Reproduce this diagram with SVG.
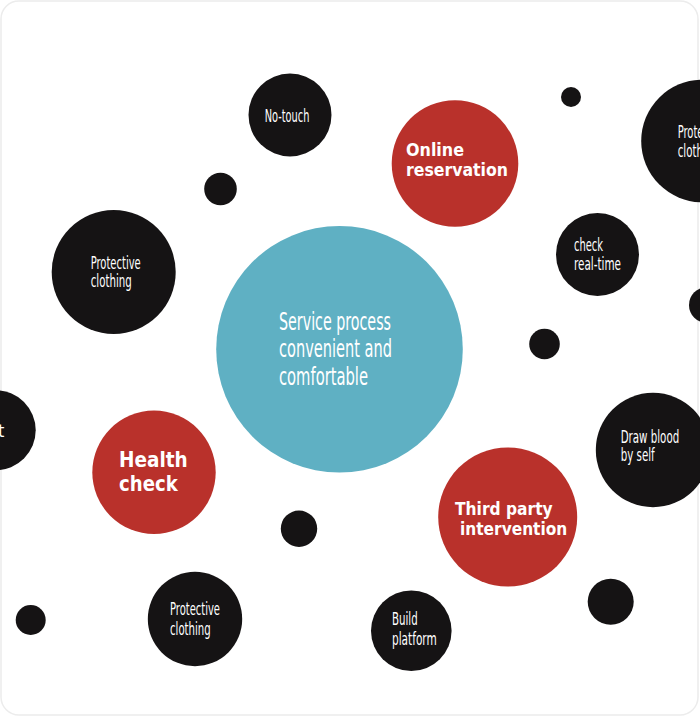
<svg xmlns="http://www.w3.org/2000/svg" width="700" height="717" viewBox="0 0 700 717">
<style>
.k{fill:#151314}
.r{fill:#b9312b}
.b{fill:#5fb0c3}
.t{fill:#ffffff;font-family:"DejaVu Sans Condensed","DejaVu Sans",sans-serif;font-stretch:condensed}
.s{font-size:18px}
.c{font-size:25px}
.bd{fill:#ffffff;font-family:"DejaVu Sans","Liberation Sans",sans-serif;font-weight:bold}
</style>
<rect x="1" y="1" width="697" height="714" rx="18" fill="#ffffff" stroke="#ececec" stroke-width="1.5"/>
<g id="connectors"></g>
<g id="dot1"><circle class="k" cx="571" cy="97" r="10"/></g>
<g id="dot2"><circle class="k" cx="220.5" cy="189" r="16.3"/></g>
<g id="dot3"><circle class="k" cx="544.5" cy="344" r="15.3"/></g>
<g id="dot4"><circle class="k" cx="707" cy="305" r="18"/></g>
<g id="dot5"><circle class="k" cx="299" cy="528.7" r="18.2"/></g>
<g id="dot6"><circle class="k" cx="30.7" cy="620" r="15"/></g>
<g id="dot7"><circle class="k" cx="610.7" cy="601.7" r="23"/></g>
<g id="no-touch"><circle class="k" cx="290" cy="115" r="41.5"/>
<text class="t s" x="264.7" y="121.5" textLength="44.7" lengthAdjust="spacingAndGlyphs">No-touch</text></g>
<g id="online-reservation"><circle class="r" cx="455" cy="163.5" r="63.3"/>
<text class="bd" font-size="17.5" x="406" y="156" textLength="58" lengthAdjust="spacingAndGlyphs">Online</text>
<text class="bd" font-size="17.5" x="406" y="176" textLength="102" lengthAdjust="spacingAndGlyphs">reservation</text></g>
<g id="protective-right"><circle class="k" cx="702.5" cy="141" r="61.3"/>
<text class="t s" x="677.7" y="137.5" textLength="50" lengthAdjust="spacingAndGlyphs">Protective</text>
<text class="t s" x="677.7" y="156.5" textLength="41" lengthAdjust="spacingAndGlyphs">clothing</text></g>
<g id="protective-left"><circle class="k" cx="113.7" cy="272" r="62"/>
<text class="t s" x="90.7" y="268.5" textLength="50" lengthAdjust="spacingAndGlyphs">Protective</text>
<text class="t s" x="90.7" y="287" textLength="41" lengthAdjust="spacingAndGlyphs">clothing</text></g>
<g id="check-real-time"><circle class="k" cx="597.5" cy="254.5" r="41.5"/>
<text class="t s" x="574" y="250.5" textLength="29" lengthAdjust="spacingAndGlyphs">check</text>
<text class="t s" x="574" y="270" textLength="47" lengthAdjust="spacingAndGlyphs">real-time</text></g>
<g id="service-process"><circle class="b" cx="339.5" cy="349.3" r="123.3"/>
<text class="t c" x="279" y="329.5" textLength="112" lengthAdjust="spacingAndGlyphs">Service process</text>
<text class="t c" x="279" y="357.3" textLength="113" lengthAdjust="spacingAndGlyphs">convenient and</text>
<text class="t c" x="279" y="385" textLength="89" lengthAdjust="spacingAndGlyphs">comfortable</text></g>
<g id="left-partial"><circle class="k" cx="-4.3" cy="430.3" r="40"/>
<text class="t s" x="4.3" y="436.5" text-anchor="end">t</text></g>
<g id="health-check"><circle class="r" cx="154" cy="472.3" r="61.7"/>
<text class="bd" font-size="21" x="119" y="467.3" textLength="68.7" lengthAdjust="spacingAndGlyphs">Health</text>
<text class="bd" font-size="21" x="119" y="491" textLength="58.7" lengthAdjust="spacingAndGlyphs">check</text></g>
<g id="draw-blood"><circle class="k" cx="653" cy="450" r="57.2"/>
<text class="t s" x="620.7" y="442.5" textLength="58.5" lengthAdjust="spacingAndGlyphs">Draw blood</text>
<text class="t s" x="620.7" y="461" textLength="34" lengthAdjust="spacingAndGlyphs">by self</text></g>
<g id="third-party"><circle class="r" cx="507.7" cy="517" r="69.5"/>
<text class="bd" font-size="17.5" x="455" y="514.5" textLength="97.7" lengthAdjust="spacingAndGlyphs">Third party</text>
<text class="bd" font-size="17.5" x="460" y="535" textLength="107.3" lengthAdjust="spacingAndGlyphs">intervention</text></g>
<g id="protective-bottom"><circle class="k" cx="195" cy="619" r="47.2"/>
<text class="t s" x="170" y="615" textLength="50" lengthAdjust="spacingAndGlyphs">Protective</text>
<text class="t s" x="170" y="634.5" textLength="40.7" lengthAdjust="spacingAndGlyphs">clothing</text></g>
<g id="build-platform"><circle class="k" cx="411.3" cy="630.8" r="40.3"/>
<text class="t s" x="392" y="625" textLength="25.7" lengthAdjust="spacingAndGlyphs">Build</text>
<text class="t s" x="392" y="644.5" textLength="44.7" lengthAdjust="spacingAndGlyphs">platform</text></g>
</svg>
